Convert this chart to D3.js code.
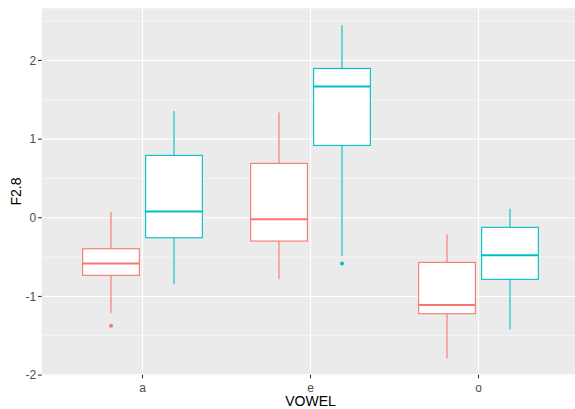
<!DOCTYPE html>
<html lang="en">
<head>
<meta charset="UTF-8">
<title>F2.8 by VOWEL</title>
<script src="https://d3js.org/d3.v7.min.js"></script>
<style>
  body { margin: 0; background: #fff; }
  svg text { font-family: 'Liberation Sans', Arial, sans-serif; }
  .tick-label { font-size: 12px; fill: #4D4D4D; }
  .axis-title { font-size: 14px; fill: #000; }
</style>
</head>
<body>
<svg id="chart" width="575" height="409"></svg>
<script>
// data
const vowels = ["a", "e", "o"];
const groups = ["g1", "g2"];
const groupColors = ["#F8766D", "#00BFC4"];
// [lower whisker, Q1, median, Q3, upper whisker] per vowel
const g1Stats = [
  [-1.215, -0.732, -0.580, -0.394, 0.072],
  [-0.783, -0.296, -0.020, 0.691, 1.339],
  [-1.786, -1.220, -1.109, -0.567, -0.211]
];
const g2Stats = [
  [-0.846, -0.254, 0.081, 0.793, 1.356],
  [-0.483, 0.920, 1.669, 1.898, 2.449],
  [-1.418, -0.783, -0.478, -0.122, 0.114]
];
const g1Outliers = [[-1.372], [], []];
const g2Outliers = [[], [-0.580], []];
const yTicks = [-2, -1, 0, 1, 2];
const yMinor = [-1.5, -0.5, 0.5, 1.5, 2.5];

const panel = { left: 41.7, top: 8.3, right: 579.3, bottom: 374.7 };

const svg = d3.select("#chart");

// x positions: categories at 1..3, ggplot's 0.6 expansion each side
const x = d3.scaleLinear().domain([0.4, 3.6]).range([panel.left, panel.right]);
const y = d3.scaleLinear().domain([-1.995, 2.663]).range([panel.bottom, panel.top]);

const dodge = 0.1875, halfW = 0.16875;

svg.append("rect")
  .attr("x", panel.left).attr("y", panel.top)
  .attr("width", 575 - panel.left).attr("height", panel.bottom - panel.top)
  .attr("fill", "#EBEBEB");

const grid = svg.append("g");
grid.selectAll(".minor").data(yMinor).enter().append("line")
  .attr("x1", panel.left).attr("x2", 575)
  .attr("y1", d => y(d)).attr("y2", d => y(d))
  .attr("stroke", "#fff").attr("stroke-width", 0.55);
grid.selectAll(".major").data(yTicks).enter().append("line")
  .attr("x1", panel.left).attr("x2", 575)
  .attr("y1", d => y(d)).attr("y2", d => y(d))
  .attr("stroke", "#fff").attr("stroke-width", 1.1);
grid.selectAll(".vmajor").data(vowels).enter().append("line")
  .attr("x1", (d, i) => x(i + 1)).attr("x2", (d, i) => x(i + 1))
  .attr("y1", panel.top).attr("y2", panel.bottom)
  .attr("stroke", "#fff").attr("stroke-width", 1.1);

// boxes
const boxes = [];
[g1Stats, g2Stats].forEach((stats, gi) => {
  stats.forEach((s, vi) => {
    boxes.push({ vi, gi, s, out: (gi === 0 ? g1Outliers : g2Outliers)[vi] });
  });
});

const bg = svg.selectAll(".box").data(boxes).enter().append("g")
  .attr("class", "box");

bg.each(function(d) {
  const g = d3.select(this);
  const cx = d.vi + 1 + (d.gi === 0 ? -dodge : dodge);
  const col = groupColors[d.gi];
  g.append("line")
    .attr("x1", x(cx)).attr("x2", x(cx))
    .attr("y1", y(d.s[4])).attr("y2", y(d.s[3]))
    .attr("stroke", col).attr("stroke-width", 1.1);
  g.append("line")
    .attr("x1", x(cx)).attr("x2", x(cx))
    .attr("y1", y(d.s[1])).attr("y2", y(d.s[0]))
    .attr("stroke", col).attr("stroke-width", 1.1);
  g.append("rect")
    .attr("x", x(cx - halfW)).attr("y", y(d.s[3]))
    .attr("width", x(cx + halfW) - x(cx - halfW))
    .attr("height", y(d.s[1]) - y(d.s[3]))
    .attr("fill", "#fff").attr("stroke", col).attr("stroke-width", 1.1);
  g.append("line")
    .attr("x1", x(cx - halfW)).attr("x2", x(cx + halfW))
    .attr("y1", y(d.s[2])).attr("y2", y(d.s[2]))
    .attr("stroke", col).attr("stroke-width", 2);
  g.selectAll("circle").data(d.out).enter().append("circle")
    .attr("cx", x(cx)).attr("cy", v => y(v)).attr("r", 2)
    .attr("fill", col);
});

// y axis
const ya = svg.append("g");
ya.selectAll("line").data(yTicks).enter().append("line")
  .attr("x1", panel.left - 3.7).attr("x2", panel.left)
  .attr("y1", d => y(d)).attr("y2", d => y(d))
  .attr("stroke", "#333").attr("stroke-width", 1.1);
ya.selectAll("text").data(yTicks).enter().append("text")
  .attr("class", "tick-label")
  .attr("x", panel.left - 5.5).attr("y", d => y(d))
  .attr("dy", "0.35em").attr("text-anchor", "end")
  .text(d => d);

// x axis
const xa = svg.append("g");
xa.selectAll("line").data(vowels).enter().append("line")
  .attr("x1", (d, i) => x(i + 1)).attr("x2", (d, i) => x(i + 1))
  .attr("y1", panel.bottom).attr("y2", panel.bottom + 3.7)
  .attr("stroke", "#333").attr("stroke-width", 1.1);
xa.selectAll("text").data(vowels).enter().append("text")
  .attr("class", "tick-label")
  .attr("x", (d, i) => x(i + 1)).attr("y", panel.bottom + 17)
  .attr("text-anchor", "middle")
  .text(d => d);

svg.append("text").attr("class", "axis-title")
  .attr("x", (panel.left + panel.right) / 2).attr("y", 406)
  .attr("text-anchor", "middle").text("VOWEL");

svg.append("text").attr("class", "axis-title")
  .attr("transform", `translate(21,${(panel.top + panel.bottom) / 2}) rotate(-90)`)
  .attr("text-anchor", "middle").text("F2.8");
</script>
</body>
</html>
